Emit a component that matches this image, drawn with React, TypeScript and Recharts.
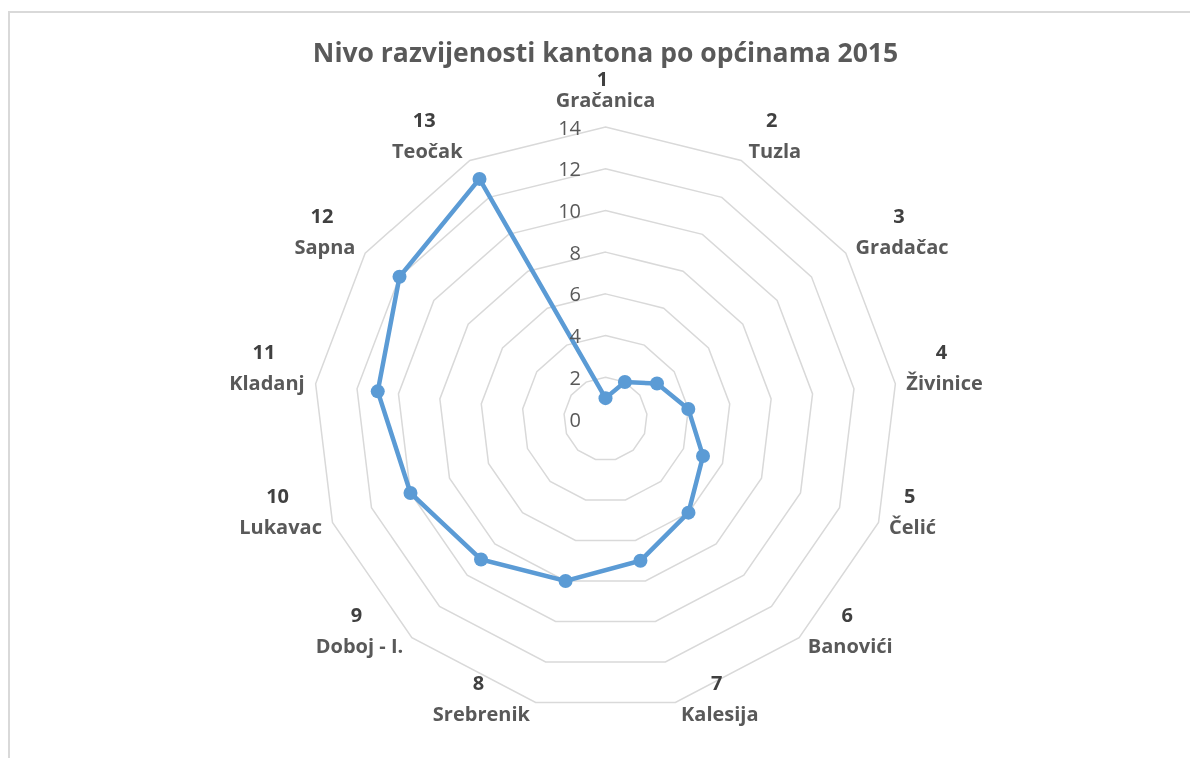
import React from "react";
import { RadarChart, Radar, PolarGrid, PolarAngleAxis, PolarRadiusAxis } from "recharts";

const NUMBERS = ["1", "2", "3", "4", "5", "6", "7", "8", "9", "10", "11", "12", "13"];
const MUNICIPALITIES = [
  "Gračanica",
  "Tuzla",
  "Gradačac",
  "Živinice",
  "Čelić",
  "Banovići",
  "Kalesija",
  "Srebrenik",
  "Doboj - I.",
  "Lukavac",
  "Kladanj",
  "Sapna",
  "Teočak",
];
const RANKS = [1, 2, 3, 4, 5, 6, 7, 8, 9, 10, 11, 12, 13];
const RADIUS_TICKS = [0, 2, 4, 6, 8, 10, 12, 14];

const data = MUNICIPALITIES.map((name, i) => ({
  key: `${NUMBERS[i]}|${name}`,
  value: RANKS[i],
}));

const W = 1182;
const H = 742;
const CX = 597.5;
const CY = 411;
const R = 292;
const FONT = "'Open Sans', 'Liberation Sans', sans-serif";
const BLUE = "#5B9BD5";

let ctx: CanvasRenderingContext2D | null = null;
function textWidth(s: string) {
  if (!ctx) ctx = document.createElement("canvas").getContext("2d");
  if (!ctx) return s.length * 10;
  ctx.font = `bold 20px ${FONT}`;
  return ctx.measureText(s).width;
}

function AngleTick(props: any) {
  const { payload } = props;
  const [num, name] = String(payload.value).split("|");
  const t = (payload.coordinate * Math.PI) / 180;
  const dx = Math.cos(t);
  const dy = -Math.sin(t);
  const vx = CX + R * dx;
  const vy = CY + R * dy;
  const top = Math.abs(dx) < 0.1 && dy < 0;
  const hw = textWidth(name) / 2;
  const x = top ? vx : vx + Math.sign(dx) * (hw + 4 + 7 * Math.abs(dx));
  const nameY = top ? vy - 28 : vy + 11 * dy;
  const gap = top ? 21 : 31;
  return (
    <g>
      <text
        x={x - 3}
        y={nameY - gap}
        textAnchor="middle"
        dominantBaseline="central"
        fontFamily={FONT}
        fontWeight="bold"
        fontSize={20}
        fill="#404040"
      >
        {num}
      </text>
      <text
        x={x}
        y={nameY}
        textAnchor="middle"
        dominantBaseline="central"
        fontFamily={FONT}
        fontWeight="bold"
        fontSize={20}
        fill="#595959"
      >
        {name}
      </text>
    </g>
  );
}

function RadiusTick(props: any) {
  const { x, y, payload } = props;
  return (
    <text
      x={x - 24.5}
      y={y}
      textAnchor="end"
      dominantBaseline="central"
      fontFamily={FONT}
      fontSize={20}
      fill="#595959"
    >
      {payload.value}
    </text>
  );
}

function Dot(props: any) {
  const { cx, cy } = props;
  if (cx == null || cy == null) return null;
  return <circle cx={cx} cy={cy} r={7} fill={BLUE} stroke="none" />;
}

export default function App() {
  return (
    <div style={{ position: "relative", width: W, height: H, background: "#fff" }}>
      <div
        style={{
          position: "fixed",
          left: 8,
          top: 11,
          width: 1300,
          height: 900,
          borderLeft: "2px solid #d9d9d9",
          borderTop: "2px solid #d9d9d9",
          pointerEvents: "none",
        }}
      />
      <div
        style={{
          position: "absolute",
          left: 0,
          width: 1195,
          top: 28,
          textAlign: "center",
          fontFamily: FONT,
          fontWeight: "bold",
          fontSize: 26.5,
          lineHeight: "32px",
          color: "#595959",
        }}
      >
        Nivo razvijenosti kantona po općinama 2015
      </div>
      <RadarChart
        width={W}
        height={H}
        data={data}
        cx={CX}
        cy={CY}
        outerRadius={R}
        style={{ position: "absolute", left: 0, top: 0 }}
      >
        <PolarGrid gridType="polygon" radialLines={false} stroke="#d9d9d9" strokeWidth={1.5} />
        <PolarAngleAxis dataKey="key" tick={<AngleTick />} tickLine={false} axisLine={false} />
        <PolarRadiusAxis
          angle={90}
          domain={[0, 14]}
          ticks={RADIUS_TICKS as any}
          tickCount={8}
          axisLine={false}
          tickLine={false}
          tick={<RadiusTick />}
        />
        <Radar
          dataKey="value"
          stroke={BLUE}
          strokeWidth={4.5}
          fill="none"
          fillOpacity={0}
          dot={<Dot />}
          isAnimationActive={false}
        />
      </RadarChart>
    </div>
  );
}
